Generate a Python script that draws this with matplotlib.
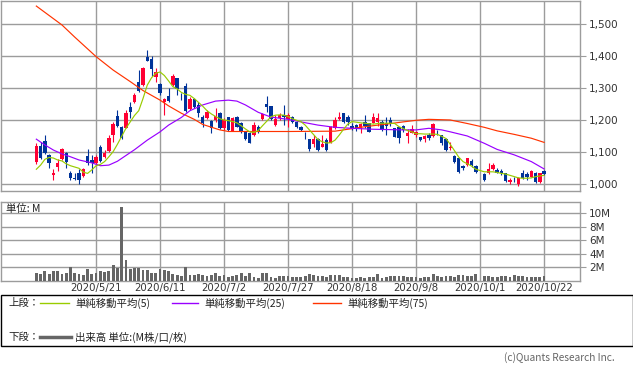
import matplotlib
matplotlib.use('Agg')
import matplotlib.pyplot as plt
from matplotlib.patches import Rectangle
from matplotlib.ticker import FuncFormatter

plt.rcParams['font.family'] = ['Noto Sans CJK JP', 'DejaVu Sans']

# daily candles (slot index on the x axis, slot 104 = 2020/10/1 had no trading)
slots = [i for i in range(120) if i != 104]

opens = [1069, 1120, 1135, 1092, 1030, 1055, 1078, 1097, 1036, 1019,
         1036, 1027, 1088, 1076, 1066, 1118, 1084, 1105, 1154, 1213,
         1180, 1177, 1240, 1258, 1321, 1310, 1397, 1391, 1336, 1313,
         1256, 1276, 1310, 1331, 1277, 1307, 1234, 1266, 1248, 1211,
         1206, 1198, 1201, 1224, 1175, 1211, 1168, 1209, 1191, 1164,
         1159, 1154, 1180, 1203, 1250, 1245, 1185, 1206, 1217, 1203,
         1211, 1196, 1180, 1151, 1141, 1126, 1141, 1118, 1138, 1130,
         1175, 1203, 1222, 1211, 1182, 1185, 1175, 1194, 1191, 1193,
         1196, 1196, 1193, 1201, 1175, 1178, 1182, 1151, 1161, 1154,
         1149, 1141, 1154, 1151, 1164, 1154, 1141, 1112, 1088, 1081,
         1058, 1060, 1073, 1058,
         1032, 1034, 1047, 1045, 1043, 1036, 1008, 1016, 1001, 1036,
         1032, 1024, 1034, 1008, 1041]
highs = [1128, 1133, 1154, 1094, 1047, 1078, 1112, 1102, 1040, 1034,
         1047, 1050, 1110, 1092, 1092, 1123, 1107, 1154, 1196, 1232,
         1182, 1232, 1258, 1286, 1357, 1368, 1420, 1401, 1362, 1316,
         1269, 1300, 1344, 1333, 1284, 1316, 1274, 1269, 1258, 1217,
         1232, 1201, 1237, 1227, 1206, 1211, 1211, 1213, 1196, 1168,
         1164, 1196, 1185, 1222, 1276, 1245, 1217, 1222, 1248, 1222,
         1213, 1199, 1183, 1164, 1141, 1154, 1144, 1154, 1144, 1182,
         1209, 1227, 1224, 1217, 1191, 1188, 1191, 1217, 1193, 1224,
         1222, 1201, 1211, 1209, 1177, 1180, 1185, 1172, 1185, 1168,
         1149, 1154, 1159, 1193, 1170, 1154, 1144, 1133, 1092, 1081,
         1060, 1083, 1078, 1060,
         1034, 1066, 1066, 1050, 1047, 1036, 1019, 1024, 1022, 1045,
         1039, 1045, 1037, 1036, 1045]
lows = [1063, 1078, 1095, 1052, 1013, 1040, 1076, 1052, 1013, 1013,
        1000, 1024, 1060, 1034, 1060, 1071, 1081, 1102, 1133, 1178,
        1141, 1175, 1206, 1253, 1290, 1307, 1384, 1338, 1321, 1279,
        1217, 1258, 1307, 1279, 1263, 1227, 1232, 1237, 1211, 1180,
        1203, 1161, 1196, 1172, 1170, 1168, 1165, 1178, 1159, 1138,
        1130, 1151, 1161, 1201, 1227, 1201, 1182, 1201, 1185, 1178,
        1193, 1177, 1168, 1141, 1105, 1118, 1105, 1116, 1105, 1128,
        1172, 1201, 1193, 1185, 1170, 1168, 1161, 1175, 1162, 1191,
        1182, 1168, 1154, 1182, 1147, 1128, 1164, 1130, 1159, 1149,
        1136, 1133, 1138, 1149, 1154, 1123, 1105, 1107, 1066, 1034,
        1045, 1058, 1055, 1036,
        1011, 1032, 1045, 1034, 1029, 1008, 1001, 1008, 995, 1016,
        1013, 1022, 1005, 1005, 1029]
closes = [1120, 1083, 1097, 1066, 1036, 1066, 1109, 1071, 1019, 1018,
          1013, 1047, 1066, 1066, 1086, 1074, 1097, 1146, 1188, 1182,
          1144, 1222, 1227, 1279, 1293, 1365, 1385, 1359, 1352, 1284,
          1267, 1260, 1338, 1297, 1276, 1230, 1266, 1241, 1222, 1191,
          1227, 1175, 1213, 1177, 1201, 1170, 1206, 1180, 1164, 1141,
          1130, 1185, 1164, 1219, 1241, 1204, 1203, 1217, 1209, 1217,
          1196, 1180, 1170, 1150, 1109, 1141, 1107, 1126, 1107, 1180,
          1201, 1211, 1196, 1196, 1175, 1175, 1187, 1182, 1164, 1211,
          1206, 1170, 1182, 1188, 1149, 1144, 1170, 1161, 1172, 1164,
          1138, 1151, 1144, 1188, 1163, 1128, 1107, 1118, 1069, 1037,
          1052, 1081, 1060, 1039,
          1013, 1047, 1060, 1036, 1034, 1011, 1013, 1015, 1019, 1019,
          1024, 1043, 1008, 1034, 1032]
volume = [1.1, 1.0, 1.4, 1.0, 1.4, 1.4, 1.0, 1.1, 2.0, 1.1,
          0.95, 0.85, 1.7, 0.95, 1.1, 1.4, 1.25, 1.4, 2.3, 1.9,
          10.9, 3.0, 1.7, 1.9, 1.9, 1.6, 1.55, 1.1, 1.1, 1.7,
          1.55, 1.4, 0.95, 0.85, 0.7, 2.0, 0.85, 0.85, 0.95, 0.85,
          0.7, 0.85, 1.1, 0.7, 0.85, 0.55, 0.6, 0.85, 1.1, 0.7,
          1.1, 0.55, 0.4, 1.1, 1.1, 0.55, 0.4, 0.7, 0.6, 0.64,
          0.5, 0.5, 0.54, 0.64, 0.99, 0.79, 0.74, 0.64, 0.5, 0.84,
          0.84, 0.89, 0.54, 0.45, 0.4, 0.4, 0.45, 0.35, 0.45, 0.45,
          0.94, 0.4, 0.59, 0.64, 0.64, 0.64, 0.64, 0.54, 0.5, 0.45,
          0.4, 0.5, 0.54, 0.99, 0.64, 0.59, 0.64, 0.64, 0.54, 0.79,
          0.79, 0.69, 0.69, 0.94,
          0.74, 0.64, 0.54, 0.54, 0.74, 0.64, 0.54, 0.79, 0.64, 0.64,
          0.5, 0.5, 0.54, 0.54, 0.64]

# moving averages
ma5 = [1047, 1060, 1078, 1084, 1082, 1076, 1073, 1064, 1058, 1054,
       1050, 1038, 1034, 1045, 1058, 1062, 1071, 1086, 1102, 1125,
       1150, 1175, 1195, 1215, 1230, 1268, 1310, 1333, 1347, 1351,
       1340, 1323, 1305, 1298, 1287, 1281, 1278, 1268, 1256, 1244,
       1230, 1220, 1212, 1205, 1201, 1199, 1196, 1192, 1183, 1173,
       1164, 1162, 1168, 1183, 1197, 1211, 1216, 1217, 1216, 1212,
       1205, 1200, 1196, 1185, 1170, 1155, 1140, 1133, 1129, 1130,
       1138, 1154, 1172, 1188, 1196, 1194, 1192, 1191, 1189, 1188,
       1190, 1191, 1191, 1191, 1190, 1180, 1174, 1168, 1164, 1158,
       1158, 1157, 1157, 1157, 1156, 1150, 1143, 1125, 1105, 1085,
       1071, 1064, 1057, 1047,
       1039, 1039, 1039, 1037, 1034, 1032, 1028, 1024, 1020, 1019,
       1019, 1020, 1024, 1026, 1028]
ma25_x = [0, 2, 4, 6, 8, 10, 13, 15, 17, 19, 21, 23, 26, 29, 31, 34, 36, 39, 42, 45,
          47, 49, 52, 55, 59, 62, 66, 70, 74, 79, 86, 89, 92, 95, 97, 101, 105, 108,
          112, 116, 119]
ma25 = [1141, 1123, 1107, 1095, 1086, 1076, 1067, 1058, 1060, 1072, 1090, 1108, 1138,
        1164, 1185, 1209, 1230, 1248, 1260, 1263, 1260, 1248, 1225, 1210, 1203, 1195,
        1185, 1178, 1175, 1172, 1170, 1170, 1175, 1170, 1164, 1151, 1128, 1109, 1092,
        1071, 1048]
ma75_x = [0, 6, 9, 14, 18, 22, 25, 29, 31, 34, 37, 39, 43, 45, 59, 70, 73, 77, 82, 86,
          89, 92, 97, 101, 105, 108, 112, 116, 119]
ma75 = [1557, 1498, 1460, 1399, 1357, 1321, 1293, 1263, 1245, 1222, 1203, 1187, 1170,
        1165, 1165, 1166, 1172, 1180, 1188, 1195, 1200, 1203, 1201, 1190, 1178, 1167,
        1156, 1144, 1131]

tick_slots = [14, 29, 44, 59, 74, 89, 104, 119]
tick_labels = ['2020/5/21', '2020/6/11', '2020/7/2', '2020/7/27', '2020/8/18',
               '2020/9/8', '2020/10/1', '2020/10/22']

W, H = 633, 371
def px(l, t, r, b):
    return [l / W, 1 - b / H, (r - l) / W, (b - t) / H]

UP = '#ff0033'
DOWN = '#003399'
GRID = '#9c9c9c'
XLIM = (-8.4, 127.3)
NUM_FONT = 'DejaVu Sans'

fig = plt.figure(figsize=(W / 100, H / 100), dpi=100)
fig.patch.set_facecolor('white')

# ---- price panel
ax = fig.add_axes(px(0.5, 0.5, 579.5, 190.5))
for s in ax.spines.values():
    s.set_color(GRID)
    s.set_linewidth(1.0)
ax.set_xlim(*XLIM)
ax.set_ylim(980.6, 1574.4)
ax.set_yticks([1000, 1100, 1200, 1300, 1400, 1500])
ax.yaxis.set_major_formatter(FuncFormatter(lambda v, p: f"{int(v):,}"))
ax.yaxis.tick_right()
ax.tick_params(axis='y', length=4, color=GRID, labelsize=7.5, labelcolor='#333333', pad=3)
for lbl in ax.get_yticklabels():
    lbl.set_family(NUM_FONT)
ax.set_xticks(tick_slots)
ax.tick_params(axis='x', length=0, labelbottom=False)
ax.grid(True, color=GRID, linewidth=1.0)
ax.set_axisbelow(True)

for x, o, h, l, c in zip(slots, opens, highs, lows, closes):
    col = UP if c > o else DOWN
    ax.vlines(x, l, h, color=col, linewidth=0.8, zorder=3)
    body = max(abs(c - o), 1.5)
    ax.bar(x, body, bottom=min(o, c), width=0.8, color=col, linewidth=0, zorder=4)

ax.plot(ma75_x, ma75, color='#ff3300', linewidth=0.85, zorder=5)
ax.plot(ma25_x, ma25, color='#9900ff', linewidth=0.85, zorder=5)
ax.plot(slots, ma5, color='#99cc00', linewidth=0.85, zorder=5)

# ---- volume panel
vax = fig.add_axes(px(0.5, 201.5, 579.5, 280.5))
for s in vax.spines.values():
    s.set_color(GRID)
    s.set_linewidth(1.0)
vax.set_xlim(*XLIM)
vax.set_ylim(0, 11.76)
vax.set_yticks([2, 4, 6, 8, 10])
vax.set_yticklabels(['2M', '4M', '6M', '8M', '10M'], family=NUM_FONT)
vax.yaxis.tick_right()
vax.tick_params(axis='y', length=4, color=GRID, labelsize=7.5, labelcolor='#333333', pad=3)
vax.set_xticks(tick_slots)
vax.set_xticklabels(tick_labels, family=NUM_FONT)
vax.tick_params(axis='x', length=0, labelsize=7.3, labelcolor='#333333', pad=2)
vax.grid(True, color=GRID, linewidth=1.0)
vax.set_axisbelow(True)
vax.bar(slots, volume, width=0.65, color='#666666', linewidth=0, zorder=3)
vax.text(0.01, 0.9, '単位: M', transform=vax.transAxes, fontsize=7.5,
         color='#222222', va='center', ha='left', zorder=6)

# ---- legend box and credit (pixel coordinates)
lax = fig.add_axes([0, 0, 1, 1])
lax.set_xlim(0, W)
lax.set_ylim(H, 0)
lax.axis('off')
lax.patch.set_visible(False)
lax.add_patch(Rectangle((0.5, 294.5), 632, 51.5, fill=False, edgecolor='black', linewidth=1.0))

fs = 7.5
lax.text(8, 303, '上段：', fontsize=fs, va='center', ha='left', color='#222222')
items = [('#99cc00', 40, 69, 75, '単純移動平均(5)'),
         ('#9900ff', 172, 198, 204, '単純移動平均(25)'),
         ('#ff3300', 313, 341, 347, '単純移動平均(75)')]
for col, x0, x1, tx, label in items:
    lax.plot([x0, x1], [303, 303], color=col, linewidth=1.0)
    lax.text(tx, 303, label, fontsize=fs, va='center', ha='left', color='#222222')

lax.text(8, 337, '下段：', fontsize=fs, va='center', ha='left', color='#222222')
lax.plot([40, 71], [337, 337], color='#666666', linewidth=2.5)
lax.text(75, 337, '出来高 単位:(M株/口/枚)', fontsize=fs, va='center', ha='left', color='#222222')

lax.text(615, 358, '(c)Quants Research Inc.', fontsize=7.3, va='center', ha='right', color='#666666')

fig.savefig('out.png', dpi=100)
